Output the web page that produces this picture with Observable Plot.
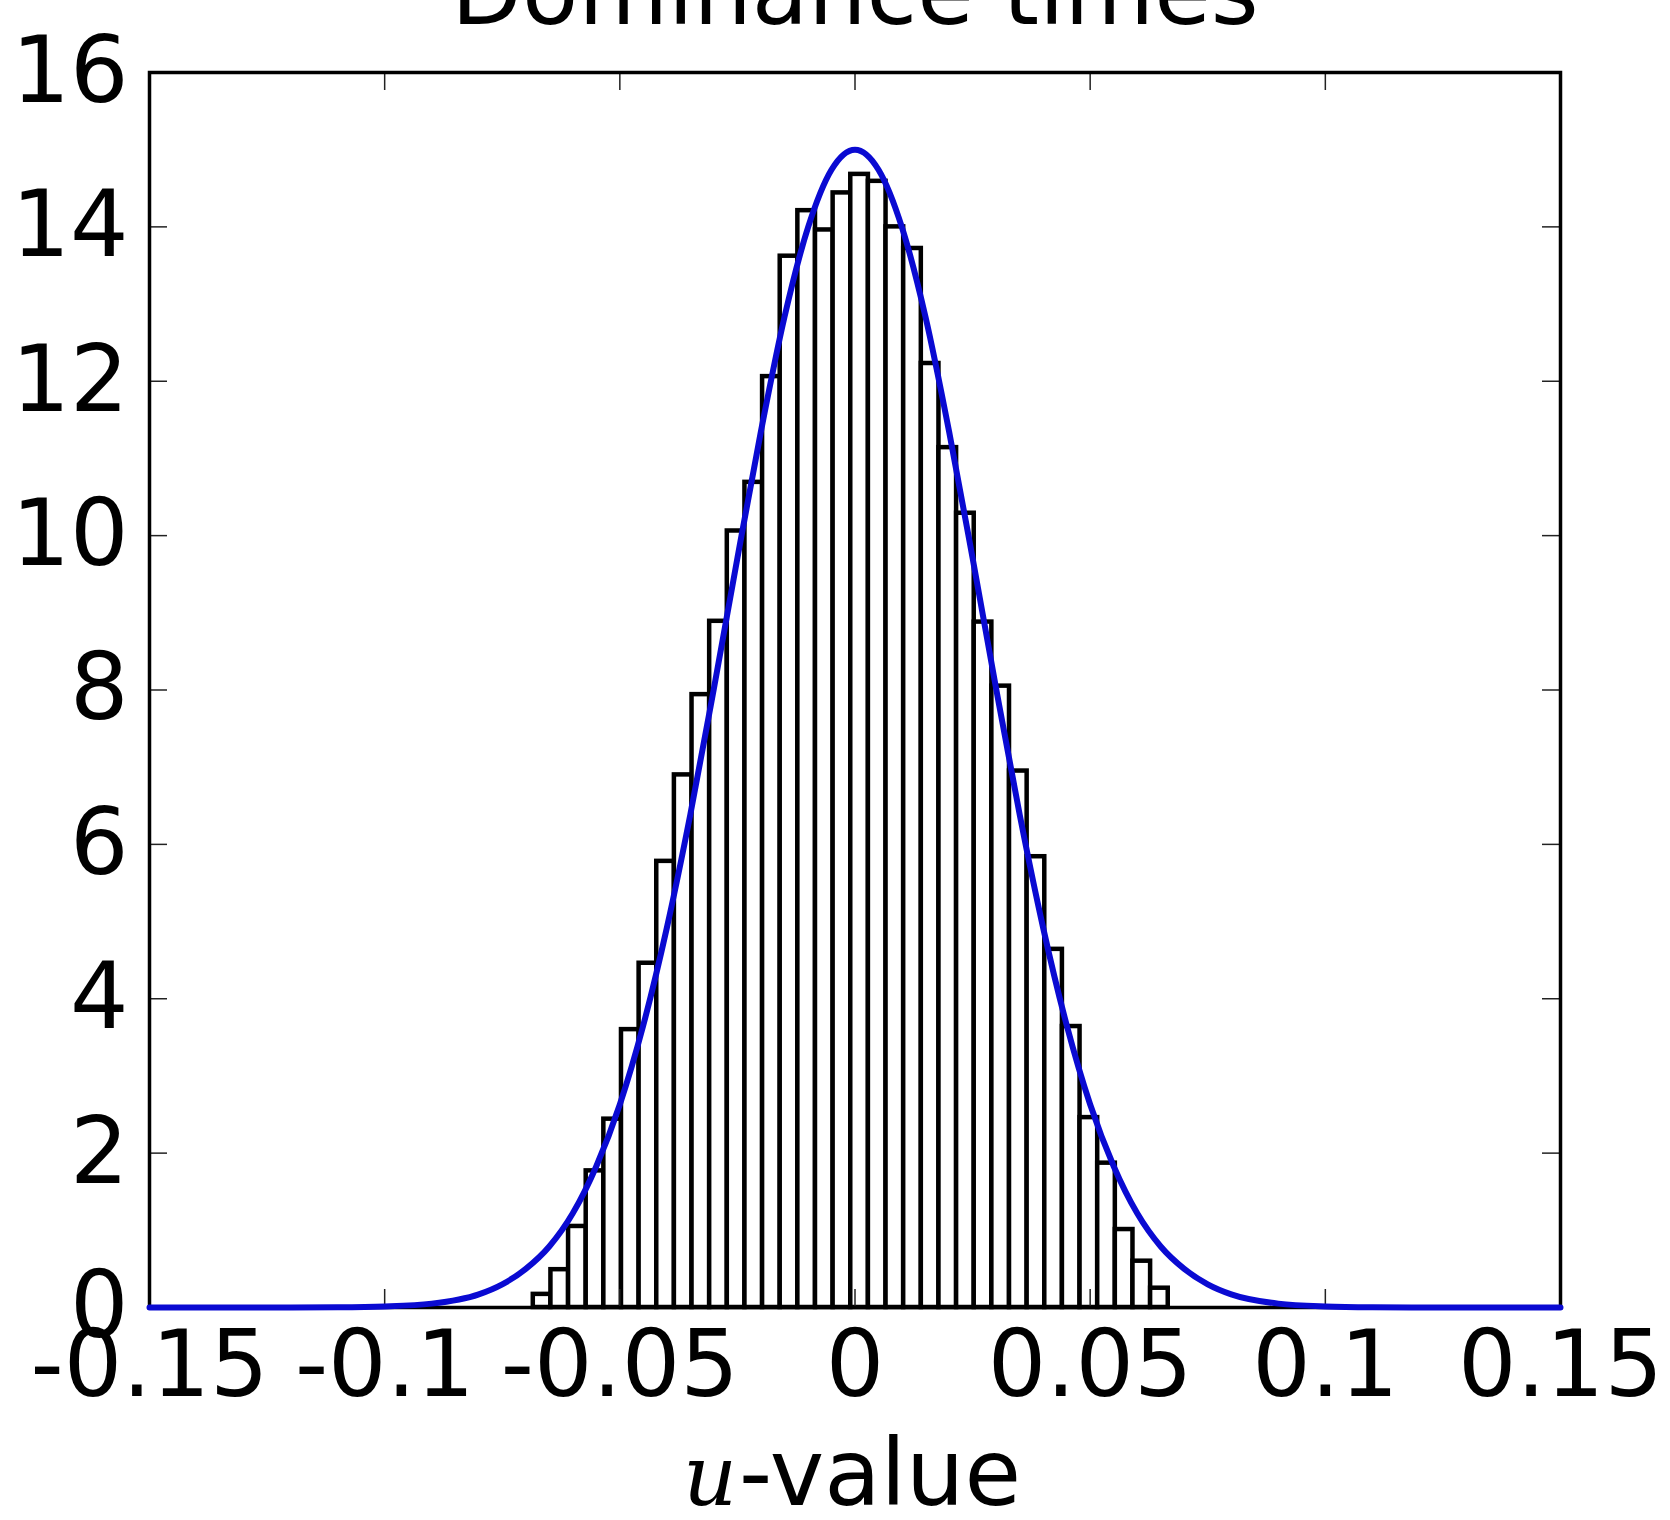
<!DOCTYPE html>
<html>
<head>
<meta charset="utf-8">
<script src="https://cdn.jsdelivr.net/npm/d3@7"></script>
<script src="https://cdn.jsdelivr.net/npm/@observablehq/plot@0.6"></script>
<style>
  html, body { margin: 0; padding: 0; background: #fff; }
  #chart svg { display: block; }
</style>
</head>
<body>
<div id="chart"></div>
<script>
// ---- data ----
const title = "Dominance times";
const xLabelItalic = "u";
const xLabelRest = "-value";

// histogram: 36 bins of equal width
const binStart = -0.0684;
const binWidth = 0.00375;
const binHeights = [
  0.17, 0.49, 1.05, 1.77, 2.44, 3.60, 4.46, 5.78, 6.90, 7.94,
  8.89, 10.06, 10.69, 12.06, 13.62, 14.21, 13.96, 14.44, 14.68, 14.59,
  14.00, 13.72, 12.23, 11.14, 10.29, 8.88, 8.05, 6.95, 5.84, 4.64,
  3.64, 2.46, 1.87, 1.01, 0.60, 0.25
];

// fitted density curve
const curveX = [
  -0.15, -0.12, -0.11, -0.10, -0.09, -0.08, -0.075, -0.07, -0.065, -0.06,
  -0.055, -0.05, -0.045, -0.04, -0.035, -0.03, -0.025, -0.02, -0.015, -0.01,
  -0.005, 0, 0.005, 0.01, 0.015, 0.02, 0.025, 0.03, 0.035, 0.04,
  0.045, 0.05, 0.055, 0.06, 0.065, 0.07, 0.075, 0.08, 0.09, 0.10,
  0.11, 0.12, 0.15
];
const curveY = [
  0, 0.0005, 0.003, 0.014, 0.05, 0.17, 0.30, 0.50, 0.79, 1.22,
  1.83, 2.63, 3.66, 4.92, 6.39, 8.02, 9.71, 11.35, 12.83, 13.99,
  14.74, 15.00, 14.74, 13.99, 12.83, 11.35, 9.71, 8.02, 6.39, 4.92,
  3.66, 2.63, 1.83, 1.22, 0.79, 0.50, 0.30, 0.17, 0.05, 0.014,
  0.003, 0.0005, 0
];

const xTicks = [-0.15, -0.1, -0.05, 0, 0.05, 0.1, 0.15];
const yTicks = [0, 2, 4, 6, 8, 10, 12, 14, 16];

// ---- tables built from the arrays ----
const bars = binHeights.map((h, i) => ({
  x1: binStart + i * binWidth,
  x2: binStart + (i + 1) * binWidth,
  h
}));
const curve = curveX.map((x, i) => ({x, y: curveY[i]}));

const W = 1670, H = 1520;
const mL = 149, mR = 110, mT = 72, mB = 213;
const innerH = H - mT - mB;
const innerW = W - mL - mR;
const tickLen = 18;
const FONT = "DejaVu Sans, sans-serif";
const FS = 92;

const fmt = d => {
  if (d === 0) return "0";
  return String(+d.toFixed(2));
};

const chart = Plot.plot({
  width: W,
  height: H,
  marginLeft: mL,
  marginRight: mR,
  marginTop: mT,
  marginBottom: mB,
  style: {fontFamily: FONT, fontSize: FS + "px", background: "#fff", color: "#000"},
  x: {domain: [-0.15, 0.15]},
  y: {domain: [0, 16]},
  marks: [
    Plot.rectY(bars, {x1: "x1", x2: "x2", y: "h", fill: "white", stroke: "black", strokeWidth: 4.5}),
    // inward ticks on all four sides
    Plot.ruleX(xTicks, {insetTop: innerH - tickLen, stroke: "#222", strokeWidth: 1.5}),
    Plot.ruleX(xTicks, {insetBottom: innerH - tickLen, stroke: "#222", strokeWidth: 1.5}),
    Plot.ruleY(yTicks, {insetRight: innerW - tickLen, stroke: "#222", strokeWidth: 1.5}),
    Plot.ruleY(yTicks, {insetLeft: innerW - tickLen, stroke: "#222", strokeWidth: 1.5}),
    Plot.frame({stroke: "black", strokeWidth: 3.5}),
    Plot.line(curve, {x: "x", y: "y", stroke: "#0a0ad2", strokeWidth: 6, curve: "monotone-x"}),
    Plot.axisX(xTicks, {tickSize: 0, tickPadding: 23, tickFormat: fmt, fontSize: FS, label: null}),
    Plot.axisY(yTicks, {tickSize: 0, tickPadding: 21, tickFormat: fmt, fontSize: FS, label: null}),
    Plot.text([title], {frameAnchor: "top", dy: -49, lineAnchor: "bottom", fontSize: FS, textAnchor: "middle", fill: "black"}),
    Plot.text([xLabelItalic], {frameAnchor: "bottom", dy: 197, dx: -118, lineAnchor: "bottom", textAnchor: "end",
      fontSize: 84, fontStyle: "italic", fontFamily: "DejaVu Serif, serif", fill: "black"}),
    Plot.text([xLabelRest], {frameAnchor: "bottom", dy: 197, dx: -116, lineAnchor: "bottom", textAnchor: "start",
      fontSize: FS, fill: "black"})
  ]
});
document.getElementById("chart").appendChild(chart);
</script>
</body>
</html>
